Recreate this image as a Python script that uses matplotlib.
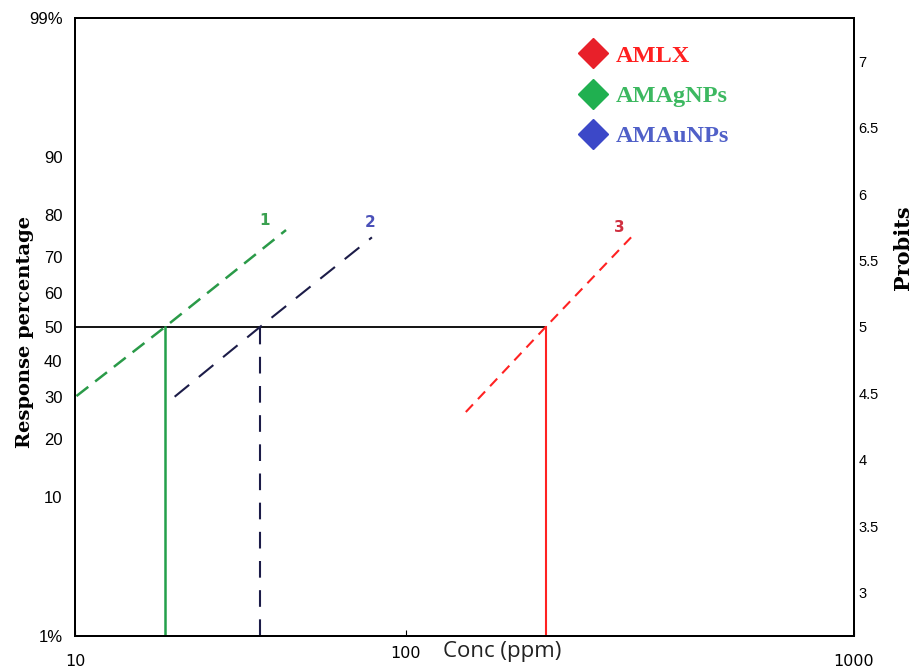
import numpy as np
import matplotlib
matplotlib.use("Agg")
import matplotlib.pyplot as plt
from matplotlib.lines import Line2D
from matplotlib.transforms import ScaledTranslation
from statistics import NormalDist

# probit lines: (conc ppm, probit)
agnp_conc = [10.1, 18.7, 43.4]
agnp_probit = [4.48, 5.0, 5.73]
aunp_conc = [20.0, 36.2, 78.9]
aunp_probit = [4.475, 5.0, 5.675]
amlx_conc = [136, 205, 318]
amlx_probit = [4.36, 5.0, 5.675]

lc50 = {"AgNPs": 18.7, "AuNPs": 36.2, "AMLX": 205}

pct_ticks = [1, 10, 20, 30, 40, 50, 60, 70, 80, 90, 99]
pct_labels = ["1%", "10", "20", "30", "40", "50", "60", "70", "80", "90", "99%"]
probit_ticks = [3, 3.5, 4, 4.5, 5, 5.5, 6, 6.5, 7]
probit_labels = ["3", "3.5", "4", "4.5", "5", "5.5", "6", "6.5", "7"]
conc_ticks = [10, 100, 1000]

nd = NormalDist()
def to_probit(p):
    return 5 + nd.inv_cdf(p / 100.0)

# the paper's second decade is wider than the first
r = 448 / 331
def fwd(x):
    lx = np.log10(np.clip(x, 1e-9, None))
    return np.where(lx <= 2, lx - 1, 1 + (lx - 2) * r)
def inv(t):
    return np.where(t <= 1, 10 ** (t + 1), 10 ** (2 + (t - 1) / r))

fig = plt.figure(figsize=(9.14, 6.68), dpi=100)
ax = fig.add_axes([75 / 914, 32 / 668, 779 / 914, 618 / 668])
ax.set_xscale("function", functions=(fwd, inv))
ax.set_xlim(10, 1000)
ylo, yhi = to_probit(1), to_probit(99)
ax.set_ylim(ylo, yhi)

green = "#23a04a"
navy = "#1c1c48"
red = "#ff2222"

# 50% line
ax.plot([10, lc50["AMLX"]], [5, 5], color="black", lw=1.3)

# regression lines
ax.plot(agnp_conc, agnp_probit, color="#2a9a48", lw=1.8, dashes=(6, 3.5))
ax.plot(aunp_conc, aunp_probit, color=navy, lw=1.5, dashes=(9, 6))
ax.plot(amlx_conc, amlx_probit, color=red, lw=1.5, dashes=(5, 3.5))

# LC50 drops
ax.plot([lc50["AgNPs"]] * 2, [ylo, 5], color=green, lw=1.8)
ax.plot([lc50["AuNPs"]] * 2, [ylo, 5], color=navy, lw=1.5, dashes=(8, 6))
ax.plot([lc50["AMLX"]] * 2, [ylo, 5], color=red, lw=1.5)

ax.text(37.5, 5.80, "1", color="#3aa050", fontsize=11, fontweight="bold", ha="center", va="center")
ax.text(77.8, 5.79, "2", color="#4a50b8", fontsize=11, fontweight="bold", ha="center", va="center")
ax.text(300, 5.75, "3", color="#d03040", fontsize=11, fontweight="bold", ha="center", va="center")

for s in ax.spines.values():
    s.set_linewidth(1.4)

ax.set_yticks([to_probit(p) for p in pct_ticks])
ax.set_yticklabels(pct_labels, fontsize=12, family="Liberation Sans")
ax.tick_params(axis="y", length=0, pad=9)

ax.set_xticks(conc_ticks)
ax.set_xticklabels(["10", "100", "1000"], fontsize=11.5, family="DejaVu Sans")
ax.xaxis.set_minor_locator(matplotlib.ticker.NullLocator())
ax.tick_params(axis="x", direction="in", length=4, pad=13, colors="black")
lab100 = ax.get_xticklabels()[1]
lab100.set_transform(lab100.get_transform() + ScaledTranslation(0, 8 / 100, fig.dpi_scale_trans))

ax.set_xlabel("Conc (ppm)", fontsize=16, family="Open Sans", color="#222222")
ax.xaxis.set_label_coords((502 - 75) / 779, -0.008)

ax.set_ylabel("Response percentage", fontsize=14, family="DejaVu Serif", fontweight="bold")
ax.yaxis.set_label_coords(-0.053, 0.492)

ax2 = ax.twinx()
ax2.set_ylim(ylo, yhi)
ax2.set_yticks(probit_ticks)
ax2.set_yticklabels(probit_labels, fontsize=10.5, family="Liberation Sans")
ax2.tick_params(axis="y", length=0, pad=3)
ax2.set_ylabel("Probits", fontsize=15, family="DejaVu Serif", fontweight="bold")
ax2.yaxis.set_label_coords(1.050, 0.628)
for s in ax2.spines.values():
    s.set_linewidth(1.4)

handles = [
    Line2D([], [], ls="none", marker="D", ms=15, color="#e8202a"),
    Line2D([], [], ls="none", marker="D", ms=15, color="#20b050"),
    Line2D([], [], ls="none", marker="D", ms=15, color="#3c48c8"),
]
ax.legend(handles, ["AMLX", "AMAgNPs", "AMAuNPs"], loc="upper left",
          bbox_to_anchor=((557 - 75) / 779, 0.992), frameon=False,
          labelcolor=["#ff2020", "#3cb860", "#5060c8"],
          prop={"family": "Liberation Serif", "weight": "bold", "size": 17.5},
          handletextpad=0.3, labelspacing=0.75, handlelength=1.2)

fig.savefig("out.png", dpi=100)
